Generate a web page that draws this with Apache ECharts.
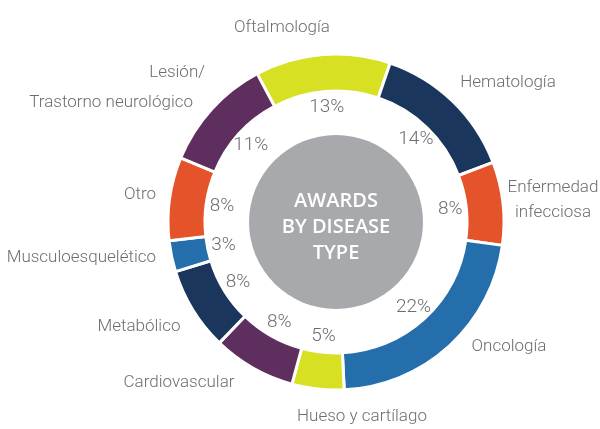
<!DOCTYPE html>
<html><head><meta charset="utf-8">
<script src="https://cdn.jsdelivr.net/npm/echarts@6/dist/echarts.min.js"></script>
<style>html,body{margin:0;padding:0;background:#fff}#c{width:600px;height:429px}</style>
</head><body><div id="c"></div>
<script>
const categories = ['Oftalmología','Hematología','Enfermedad\ninfecciosa','Oncología','Hueso y cartílago','Cardiovascular','Metabólico','Musculoesquelético','Otro','Lesión/\nTrastorno neurológico'];
const values = [13,14,8,22,5,8,8,3,8,11];
const centerTitle = ['AWARDS','BY DISEASE','TYPE'];

const colors = ['#d7e022','#1b365d','#e5532a','#236eab','#d7e022','#5d2e5e','#1b365d','#236eab','#e5532a','#5d2e5e'];
// label anchor positions (x, y, align)
const labelPos = [
  [282,28,'center'],[508,83,'center'],[553,200,'center'],[509,347,'center'],
  [362,417,'center'],[179,383,'center'],[139,327,'center'],[156,258,'right'],
  [156,195,'right'],[205,88,'right']
];
const FONT = "Roboto";
const C = [336,222];
const chart = echarts.init(document.getElementById('c'));
const data = categories.map((n,i)=>({name:n,value:values[i],itemStyle:{color:colors[i]}}));
const txt = {fontFamily:FONT,fontSize:17,fontWeight:300,color:'#6d6e71'};
const pct = {fontFamily:FONT,fontSize:19,fontWeight:300,color:'#6d6e71'};
chart.setOption({
  animation:false,
  series:[
    {type:'pie',center:C,radius:[0,87],silent:true,label:{show:false},z:1,
     data:[{value:1,itemStyle:{color:'#a8a9ad'}}]},
    {type:'pie',center:C,radius:[131,168],startAngle:118,clockwise:true,
     itemStyle:{borderColor:'#fff',borderWidth:3},
     label:Object.assign({show:true,position:'outside',overflow:'none',lineHeight:25,
       formatter:p=>{ if(p.dataIndex===9){return '{a|Lesión/}\n{b|Trastorno neurológico}';} return p.name; },
       rich:{a:Object.assign({lineHeight:30},txt),b:Object.assign({lineHeight:30,padding:[0,12,0,0]},txt)}},txt),
     labelLine:{show:false},
     labelLayout:p=>({x:labelPos[p.dataIndex][0],y:labelPos[p.dataIndex][1],align:labelPos[p.dataIndex][2],verticalAlign:'middle'}),
     data:data},
    {type:'pie',center:C,radius:[96,128],startAngle:118,clockwise:true,silent:true,
     itemStyle:{color:'rgba(0,0,0,0)'},
     label:Object.assign({show:true,position:'inside',formatter:p=>p.value+'%'},pct),
     labelLine:{show:false},
     data:categories.map((n,i)=>({name:n,value:values[i]}))}
  ],
  graphic:[{type:'text',z:100,
    style:{text:centerTitle.join('\n'),x:C[0],y:C[1]+5,align:'center',verticalAlign:'middle',
      fill:'#fff',font:"600 20px 'Open Sans',sans-serif",lineHeight:26}}]
});
</script></body></html>
